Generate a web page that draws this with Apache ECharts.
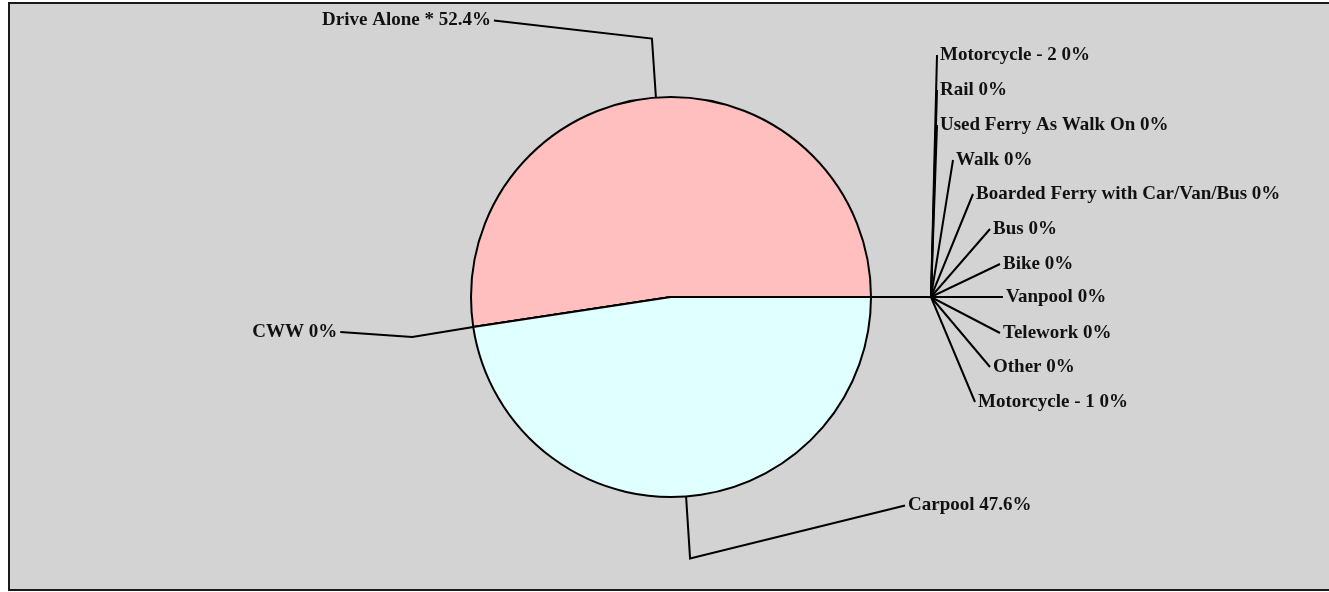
<!DOCTYPE html>
<html><head><meta charset="utf-8">
<script src="https://cdn.jsdelivr.net/npm/echarts@6/dist/echarts.min.js"></script>
<style>html,body{margin:0;padding:0;background:#fff}#c{width:1329px;height:592px}</style>
</head><body><div id="c"></div>
<script>
// ---- data ----
const categories = ['Drive Alone *', 'CWW', 'Carpool', 'Motorcycle - 1', 'Other', 'Telework', 'Vanpool', 'Bike', 'Bus', 'Boarded Ferry with Car/Van/Bus', 'Walk', 'Used Ferry As Walk On', 'Rail', 'Motorcycle - 2'];
const sharePercent = [52.4, 0, 47.6, 0, 0, 0, 0, 0, 0, 0, 0, 0, 0, 0];

// ---- styling / label placement (relative to each slice's edge point) ----
const sliceColors = ['#FFBFBF', '#FFDFBF', '#E0FFFF', '#C0C0FF', '#FFFFC0', '#C0FFC0', '#FFC0FF', '#C0E0FF', '#E0C0FF', '#FFE0E0', '#E0FFE0', '#E0E0FF', '#FFF0C0', '#C0FFFF'];
// [elbowDx, elbowDy, endDx, endDy, align]
const labelPlacement = [
  [-4, -59, -162, -77, 'right'],
  [-61, 10, -133, 5, 'right'],
  [4, 62, 219, 9, 'left'],
  [60, 0, 104, 105, 'left'],
  [60, 0, 119, 70, 'left'],
  [60, 0, 129, 36, 'left'],
  [60, 0, 132, 0, 'left'],
  [60, 0, 129, -33, 'left'],
  [60, 0, 119, -68, 'left'],
  [60, 0, 102, -103, 'left'],
  [60, 0, 82, -137, 'left'],
  [60, 0, 66, -172, 'left'],
  [60, 0, 66, -207, 'left'],
  [60, 0, 66, -242, 'left']
];
const CX = 671, CY = 297, R = 200;

const total = sharePercent.reduce((a, b) => a + b, 0);
function edgePoint(i) {
  let before = 0;
  for (let j = 0; j < i; j++) before += sharePercent[j];
  const ang = (before + sharePercent[i] / 2) / total * 2 * Math.PI;
  return [CX + R * Math.cos(ang), CY - R * Math.sin(ang)];
}

const chart = echarts.init(document.getElementById('c'), null, {renderer: 'canvas'});
chart.setOption({
  animation: false,
  backgroundColor: '#ffffff',
  graphic: [{
    type: 'rect', z: -10, silent: true,
    shape: {x: 9, y: 3, width: 1340, height: 587},
    style: {fill: '#D3D3D3', stroke: '#1a1a1a', lineWidth: 2}
  }],
  series: [{
    type: 'pie',
    center: [CX, CY],
    radius: R,
    startAngle: 0,
    clockwise: false,
    avoidLabelOverlap: false,
    minShowLabelAngle: 0,
    data: categories.map((n, i) => ({name: n, value: sharePercent[i], itemStyle: {color: sliceColors[i]}})),
    itemStyle: {borderColor: '#000', borderWidth: 2},
    label: {
      show: true, position: 'outside',
      formatter: p => p.name + ' ' + p.value + '%',
      fontFamily: 'Liberation Serif', fontWeight: 'bold', fontSize: 19, color: '#111'
    },
    labelLine: {show: true, length: 10, length2: 10, lineStyle: {color: '#000', width: 2}},
    emphasis: {disabled: true},
    labelLayout: function (p) {
      const i = p.dataIndex;
      const e = edgePoint(i);
      const pl = labelPlacement[i];
      const elbow = [e[0] + pl[0], e[1] + pl[1]];
      const end = [e[0] + pl[2], e[1] + pl[3]];
      const gap = pl[4] === 'right' ? -3 : 3;
      return {
        x: end[0] + gap, y: end[1],
        align: pl[4], verticalAlign: 'middle',
        labelLinePoints: [e, elbow, end]
      };
    }
  }]
});
</script></body></html>
